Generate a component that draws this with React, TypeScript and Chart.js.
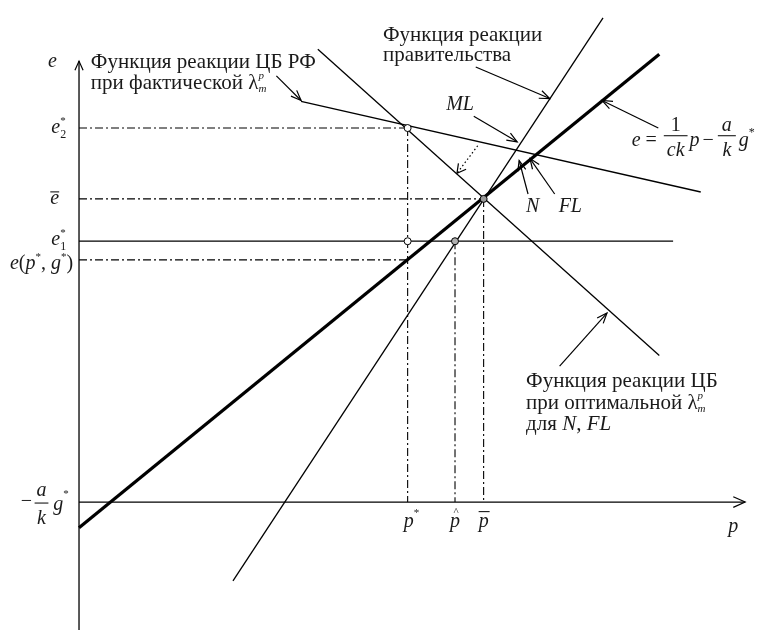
import React, { useEffect, useRef } from "react";
import { Chart, registerables } from "chart.js";

Chart.register(...registerables);

// ---- value ranges (economic units) ----
const X_MIN = -7.5;
const X_MAX = 68.6;
const Y_MIN = -13.0;
const Y_MAX = 50.5;

// ---- key levels ----
const P_STAR = 33.3;
const P_HAT = 38.1;
const P_BAR = 41.0;
const E2_STAR = 38.0;
const E_BAR = 30.8;
const E1_STAR = 26.5;
const E_PG = 24.6;

// ---- axes ----
const xAxisLine = [{ x: 0, y: 0 }, { x: 67.5, y: 0 }];
const yAxisLine = [{ x: 0, y: Y_MIN }, { x: 0, y: 44.8 }];

// ---- reaction lines ----
const thickLine = [{ x: 0, y: -2.6 }, { x: 58.8, y: 45.5 }]; // e = p/ck - a/k g*
const govLine = [{ x: 15.6, y: -8.0 }, { x: 53.1, y: 49.2 }];
const cbOptimalLine = [{ x: 24.2, y: 46.0 }, { x: 58.8, y: 14.9 }];
const cbActualLine = [{ x: 22.5, y: 40.7 }, { x: 63.0, y: 31.5 }];
const e1Line = [{ x: 0, y: E1_STAR }, { x: 60.2, y: E1_STAR }];

// ---- guide (dash-dot) lines ----
const guideLines = [
  [{ x: 0, y: E2_STAR }, { x: P_STAR, y: E2_STAR }],
  [{ x: 0, y: E_BAR }, { x: P_BAR, y: E_BAR }],
  [{ x: 0, y: E_PG }, { x: P_STAR, y: E_PG }],
  [{ x: P_STAR, y: E2_STAR }, { x: P_STAR, y: 0 }],
  [{ x: P_HAT, y: E1_STAR }, { x: P_HAT, y: 0 }],
  [{ x: P_BAR, y: E_BAR }, { x: P_BAR, y: 0 }],
];

// ---- equilibrium points ----
const markPoints = [
  { x: P_STAR, y: E2_STAR },
  { x: P_STAR, y: E1_STAR },
  { x: P_HAT, y: E1_STAR },
  { x: P_BAR, y: E_BAR },
];
const markFills = ["#ffffff", "#ffffff", "#b0b0b0", "#9a9a9a"];

// ---- annotation arrows [from, to] ----
const arrows = [
  [{ x: 20.0, y: 43.3 }, { x: 22.5, y: 40.8 }],
  [{ x: 40.2, y: 44.2 }, { x: 47.7, y: 41.0 }],
  [{ x: 40.0, y: 39.2 }, { x: 44.4, y: 36.6 }],
  [{ x: 45.5, y: 31.3 }, { x: 44.6, y: 34.7 }],
  [{ x: 48.2, y: 31.3 }, { x: 45.7, y: 34.9 }],
  [{ x: 58.7, y: 38.0 }, { x: 53.0, y: 40.8 }],
  [{ x: 48.7, y: 13.8 }, { x: 53.5, y: 19.2 }],
];
const dottedArrow = [{ x: 40.4, y: 36.2 }, { x: 38.3, y: 33.4 }];

// ---- texts ----
const labelCbActual = ["Функция реакции ЦБ РФ", "при фактической λ"];
const labelGov = ["Функция реакции", "правительства"];
const labelCbOptimal = ["Функция реакции ЦБ", "при оптимальной λ", "для "];

const SERIF = '"Liberation Serif", "DejaVu Serif", "Times New Roman", serif';
const INK = "#1a1a1a";

type Run = { t: string; it?: boolean; s?: number; dy?: number; noAdv?: boolean };

function fontOf(r: Run, base: number) {
  return `${r.it ? "italic " : ""}${r.s ?? base}px ${SERIF}`;
}

function drawRuns(
  ctx: CanvasRenderingContext2D,
  runs: Run[],
  x: number,
  y: number,
  base: number,
  align: "left" | "right" | "center" = "left"
) {
  let w = 0;
  for (const r of runs) {
    ctx.font = fontOf(r, base);
    if (!r.noAdv) w += ctx.measureText(r.t).width;
  }
  let cx = align === "right" ? x - w : align === "center" ? x - w / 2 : x;
  ctx.textAlign = "left";
  ctx.textBaseline = "alphabetic";
  for (const r of runs) {
    ctx.font = fontOf(r, base);
    ctx.fillText(r.t, cx, y + (r.dy ?? 0));
    if (!r.noAdv) cx += ctx.measureText(r.t).width;
  }
  return w;
}

function arrowHead(
  ctx: CanvasRenderingContext2D,
  fx: number,
  fy: number,
  tx: number,
  ty: number,
  len = 11,
  ang = 0.38
) {
  const a = Math.atan2(ty - fy, tx - fx);
  ctx.beginPath();
  ctx.moveTo(tx - len * Math.cos(a - ang), ty - len * Math.sin(a - ang));
  ctx.lineTo(tx, ty);
  ctx.lineTo(tx - len * Math.cos(a + ang), ty - len * Math.sin(a + ang));
  ctx.stroke();
}

const annotationPlugin = {
  id: "econAnnotations",
  afterDatasetsDraw(chart: any) {
    const ctx: CanvasRenderingContext2D = chart.ctx;
    const xs = chart.scales.x;
    const ys = chart.scales.y;
    const X = (v: number) => xs.getPixelForValue(v);
    const Y = (v: number) => ys.getPixelForValue(v);
    ctx.save();
    ctx.strokeStyle = "#000";
    ctx.lineWidth = 1.2;
    ctx.setLineDash([]);

    // axis arrowheads
    arrowHead(ctx, X(0), Y(0), X(xAxisLine[1].x), Y(0), 13, 0.42);
    arrowHead(ctx, X(0), Y(0), X(0), Y(yAxisLine[1].y), 10, 0.42);

    // annotation arrows
    for (const [f, t] of arrows) {
      ctx.beginPath();
      ctx.moveTo(X(f.x), Y(f.y));
      ctx.lineTo(X(t.x), Y(t.y));
      ctx.stroke();
      arrowHead(ctx, X(f.x), Y(f.y), X(t.x), Y(t.y));
    }
    // dotted arrow
    ctx.setLineDash([1.5, 2.5]);
    ctx.beginPath();
    ctx.moveTo(X(dottedArrow[0].x), Y(dottedArrow[0].y));
    ctx.lineTo(X(dottedArrow[1].x), Y(dottedArrow[1].y));
    ctx.stroke();
    ctx.setLineDash([]);
    arrowHead(
      ctx,
      X(dottedArrow[0].x),
      Y(dottedArrow[0].y),
      X(dottedArrow[1].x),
      Y(dottedArrow[1].y),
      10,
      0.5
    );

    ctx.fillStyle = INK;
    const B = 21; // label font size
    const M = 20; // math font size

    // label: actual CB reaction
    drawRuns(ctx, [{ t: labelCbActual[0] }], X(1.2), Y(44.1), B);
    drawRuns(
      ctx,
      [
        { t: labelCbActual[1] },
        { t: "p", it: true, s: 11, dy: -10, noAdv: true },
        { t: "m", it: true, s: 11, dy: 3 },
      ],
      X(1.2),
      Y(42.0),
      B
    );

    // label: government reaction
    drawRuns(ctx, [{ t: labelGov[0] }], X(30.8), Y(46.8), B);
    drawRuns(ctx, [{ t: labelGov[1] }], X(30.8), Y(44.8), B);

    // label: optimal CB reaction
    drawRuns(ctx, [{ t: labelCbOptimal[0] }], X(45.3), Y(11.7), B);
    drawRuns(
      ctx,
      [
        { t: labelCbOptimal[1] },
        { t: "p", it: true, s: 11, dy: -10, noAdv: true },
        { t: "m", it: true, s: 11, dy: 3 },
      ],
      X(45.3),
      Y(9.5),
      B
    );
    drawRuns(
      ctx,
      [{ t: labelCbOptimal[2] }, { t: "N", it: true }, { t: ", " }, { t: "FL", it: true }],
      X(45.3),
      Y(7.3),
      B
    );

    // ML, N, FL
    drawRuns(ctx, [{ t: "ML", it: true }], X(37.2), Y(39.8), M);
    drawRuns(ctx, [{ t: "N", it: true }], X(45.3), Y(29.5), M);
    drawRuns(ctx, [{ t: "FL", it: true }], X(48.6), Y(29.5), M);

    // formula e = 1/ck p - a/k g*
    {
      const by = Y(36.2);
      let cx = X(56.0);
      cx += drawRuns(ctx, [{ t: "e", it: true }, { t: " = " }], cx, by, M) + 2;
      ctx.font = `italic ${M}px ${SERIF}`;
      const ckW = ctx.measureText("ck").width + 6;
      const fc = cx + ckW / 2;
      drawRuns(ctx, [{ t: "1" }], fc, by - 15, M, "center");
      drawRuns(ctx, [{ t: "ck", it: true }], fc, by + 10, M, "center");
      ctx.lineWidth = 1;
      ctx.beginPath();
      ctx.moveTo(cx, by - 10);
      ctx.lineTo(cx + ckW, by - 10);
      ctx.stroke();
      cx += ckW + 2;
      cx += drawRuns(ctx, [{ t: "p", it: true }], cx, by, M) + 3;
      cx += drawRuns(ctx, [{ t: "−" }], cx, by, M) + 4;
      ctx.font = `italic ${M}px ${SERIF}`;
      const aW = ctx.measureText("a").width + 8;
      drawRuns(ctx, [{ t: "a", it: true }], cx + aW / 2, by - 15, M, "center");
      drawRuns(ctx, [{ t: "k", it: true }], cx + aW / 2, by + 10, M, "center");
      ctx.beginPath();
      ctx.moveTo(cx, by - 10);
      ctx.lineTo(cx + aW, by - 10);
      ctx.stroke();
      cx += aW + 3;
      drawRuns(ctx, [{ t: "g", it: true }, { t: "*", s: 12, dy: -10 }], cx, by, M);
    }

    // axis titles
    drawRuns(ctx, [{ t: "e", it: true }], X(-2.7), Y(44.2), M, "center");
    drawRuns(ctx, [{ t: "p", it: true }], X(66.3), Y(-3.0), M, "center");

    // y tick-like labels
    const rx = X(-1.3);
    const starRun = (dy: number, noAdv = false): Run => ({ t: "*", s: 11, dy, noAdv });
    // e2*
    drawRuns(
      ctx,
      [{ t: "e", it: true }, { ...starRun(-9), noAdv: true }, { t: "2", s: 12, dy: 5 }],
      rx,
      Y(E2_STAR) + 5,
      M,
      "right"
    );
    // e bar
    {
      const w = drawRuns(ctx, [{ t: "e", it: true }], rx - 7, Y(E_BAR) + 5, M, "right");
      ctx.lineWidth = 1;
      ctx.beginPath();
      ctx.moveTo(rx - 7 - w, Y(E_BAR) - 7);
      ctx.lineTo(rx - 7, Y(E_BAR) - 7);
      ctx.stroke();
    }
    // e1*
    drawRuns(
      ctx,
      [{ t: "e", it: true }, { ...starRun(-9), noAdv: true }, { t: "1", s: 12, dy: 5 }],
      rx,
      Y(E1_STAR) + 4,
      M,
      "right"
    );
    // e(p*, g*)
    drawRuns(
      ctx,
      [
        { t: "e", it: true },
        { t: "(" },
        { t: "p", it: true },
        starRun(-9),
        { t: ", " },
        { t: "g", it: true },
        starRun(-9),
        { t: ")" },
      ],
      X(-0.6),
      Y(E_PG) + 9,
      M,
      "right"
    );
    // -a/k g*
    {
      const by = Y(0) + 7;
      drawRuns(ctx, [{ t: "−" }], X(-5.9), by - 2, M);
      drawRuns(ctx, [{ t: "a", it: true }], X(-3.8), by - 13, M, "center");
      drawRuns(ctx, [{ t: "k", it: true }], X(-3.8), by + 15, M, "center");
      ctx.lineWidth = 1;
      ctx.beginPath();
      ctx.moveTo(X(-4.5), Y(0) + 1);
      ctx.lineTo(X(-3.1), Y(0) + 1);
      ctx.stroke();
      drawRuns(ctx, [{ t: "g", it: true }, { t: "*", s: 11, dy: -13 }], X(-2.6), by + 1, M);
    }

    // p labels
    const pby = Y(-2.5);
    drawRuns(ctx, [{ t: "p", it: true }, { t: "*", s: 11, dy: -11 }], X(P_STAR) - 4, pby, M);
    {
      drawRuns(ctx, [{ t: "p", it: true }], X(P_HAT), pby, M, "center");
      drawRuns(ctx, [{ t: "^", s: 11 }], X(P_HAT) + 1, pby - 12, M, "center");
      const w2 = drawRuns(ctx, [{ t: "p", it: true }], X(P_BAR), pby, M, "center");
      ctx.lineWidth = 1;
      ctx.beginPath();
      ctx.moveTo(X(P_BAR) - w2 / 2, pby - 15);
      ctx.lineTo(X(P_BAR) + w2 / 2 + 1, pby - 15);
      ctx.stroke();
    }

    ctx.restore();
  },
};

function seg(data: { x: number; y: number }[], width: number, dash: number[] = []) {
  return {
    data,
    showLine: true,
    borderColor: "#000",
    borderWidth: width,
    borderDash: dash,
    pointRadius: 0,
    pointHoverRadius: 0,
    fill: false,
    tension: 0,
  };
}

export default function App() {
  const ref = useRef<HTMLCanvasElement | null>(null);
  useEffect(() => {
    document.body.style.margin = "0";
    document.body.style.overflow = "hidden";
    const canvas = ref.current;
    if (!canvas) return;
    const dashDot = [8, 3, 2, 3];
    const chart = new Chart(canvas, {
      type: "scatter",
      data: {
        datasets: [
          {
            data: markPoints,
            showLine: false,
            pointRadius: 3.5,
            pointBackgroundColor: markFills,
            pointBorderColor: "#000",
            pointBorderWidth: 1,
          } as any,
          seg(thickLine, 3.2),
          seg(govLine, 1.3),
          seg(cbOptimalLine, 1.3),
          seg(cbActualLine, 1.3),
          seg(e1Line, 1.2),
          ...guideLines.map((g) => seg(g, 1.1, dashDot)),
          seg(xAxisLine, 1.3),
          seg(yAxisLine, 1.3),
        ],
      },
      options: {
        animation: false,
        responsive: false,
        maintainAspectRatio: false,
        devicePixelRatio: 1,
        events: [],
        layout: { padding: 0 },
        plugins: { legend: { display: false }, tooltip: { enabled: false } },
        scales: {
          x: { type: "linear", min: X_MIN, max: X_MAX, display: false },
          y: { type: "linear", min: Y_MIN, max: Y_MAX, display: false },
        },
      },
      plugins: [annotationPlugin],
    } as any);
    return () => chart.destroy();
  }, []);
  return (
    <div style={{ width: 761, height: 635, background: "#fff" }}>
      <canvas ref={ref} width={761} height={635} style={{ display: "block" }} />
    </div>
  );
}
